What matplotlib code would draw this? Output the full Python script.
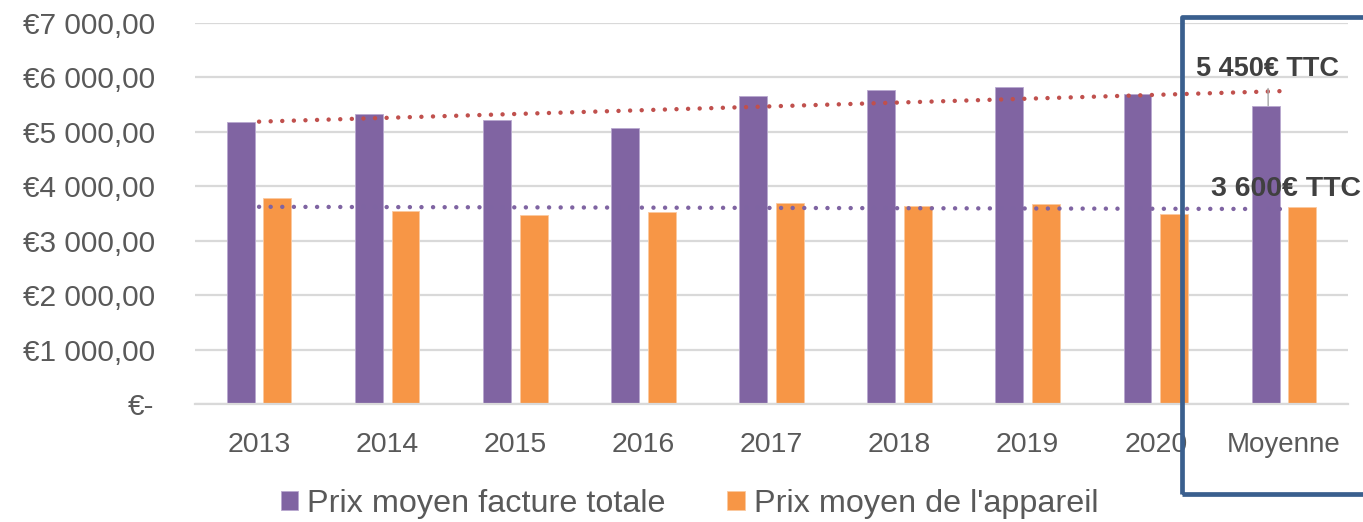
import numpy as np
import matplotlib
matplotlib.use("Agg")
import matplotlib.pyplot as plt
from matplotlib import font_manager
from matplotlib.patches import Rectangle

# Data
categories = ["2013", "2014", "2015", "2016", "2017", "2018", "2019", "2020", "Moyenne"]
facture_totale = [5185, 5321, 5211, 5075, 5651, 5767, 5817, 5699, 5479]
prix_appareil = [3780, 3541, 3473, 3528, 3699, 3633, 3670, 3492, 3615]
label_total = "5 450€ TTC"
label_appareil = "3 600€ TTC"
y_ticks = [0, 1000, 2000, 3000, 4000, 5000, 6000, 7000]
y_ticklabels = ["€-", "€1 000,00", "€2 000,00", "€3 000,00", "€4 000,00",
                "€5 000,00", "€6 000,00", "€7 000,00"]

PURPLE = "#8064A2"
ORANGE = "#F79646"
RED = "#C0504D"
TXT = "#595959"
GRID = "#D9D9D9"
BOX = "#3A5F8E"

names = {f.name for f in font_manager.fontManager.ttflist}
narrow = "Liberation Sans Narrow" if "Liberation Sans Narrow" in names else "Liberation Sans"
plt.rcParams["font.family"] = ["Liberation Sans", "DejaVu Sans"]

fig = plt.figure(figsize=(13.63, 5.22), dpi=100)
ax = fig.add_axes([195 / 1363, 1 - 404.3 / 522, (1348 - 195) / 1363, (404.3 - 22.8) / 522])

x = np.arange(len(categories))
w = 0.218
off = 0.143
ax.bar(x - off, facture_totale, w, color=PURPLE, edgecolor="#B9A8CF", linewidth=0.6,
       label="Prix moyen facture totale", zorder=2)
ax.bar(x + off, prix_appareil, w, color=ORANGE, edgecolor="#FBC9A0", linewidth=0.6,
       label="Prix moyen de l'appareil", zorder=2)

# linear trend lines (as in the original spreadsheet)
dots = (0, (0.01, 2.6))
for vals, col in [(facture_totale, RED), (prix_appareil, "#7F64A2")]:
    a, b = np.polyfit(x, vals, 1)
    ax.plot([x[0], x[-1]], [b, a * x[-1] + b], color=col, lw=3.2,
            linestyle=dots, dash_capstyle="round", zorder=3)

ax.set_xlim(-0.5, len(categories) - 0.5)
ax.set_ylim(0, 7000)
ax.set_yticks(y_ticks)
ax.set_yticklabels(y_ticklabels)
ax.set_xticks(x)
ax.set_xticklabels(categories)
ax.tick_params(axis="y", length=0, pad=29, labelsize=21.5, labelcolor=TXT)
ax.tick_params(axis="x", length=0, pad=20, labelsize=20, labelcolor=TXT)
for t in ax.get_xticklabels():
    if t.get_text().isdigit():
        t.set_family(narrow)
        t.set_fontsize(20.5)
ax.grid(axis="y", color=GRID, lw=1.6, zorder=0)
ax.set_axisbelow(True)
for s in ["top", "right", "left"]:
    ax.spines[s].set_visible(False)
ax.spines["bottom"].set_color(GRID)
ax.spines["bottom"].set_linewidth(1.6)

# value call-outs on the average
ax.annotate(label_total, xy=(x[-1] - off + 0.02, facture_totale[-1]), xytext=(7.875, 6160),
            ha="center", va="center", fontsize=19.5, fontweight="bold", color="#404040",
            arrowprops=dict(arrowstyle="-", color="#A6A6A6", lw=1, shrinkA=3, shrinkB=0),
            zorder=5)
ax.text(7.43, 3950, label_appareil, ha="left", va="center", fontsize=20.5,
        fontweight="bold", color="#404040", zorder=5)

# highlight box around the average column
fig.patches.append(Rectangle((1181.7 / 1363, 1 - 493.7 / 522), (1372 - 1181.7) / 1363,
                             (493.7 - 16.7) / 522, transform=fig.transFigure, fill=False,
                             edgecolor=BOX, lw=3.4, joinstyle="round", zorder=10))

leg = fig.legend(loc="center", bbox_to_anchor=(0.506, 0.035), ncol=2, frameon=False,
                 fontsize=23.3, handlelength=0.53, handleheight=0.53, handletextpad=0.3,
                 columnspacing=1.9, labelcolor=TXT)

fig.savefig("out.png", dpi=100)
